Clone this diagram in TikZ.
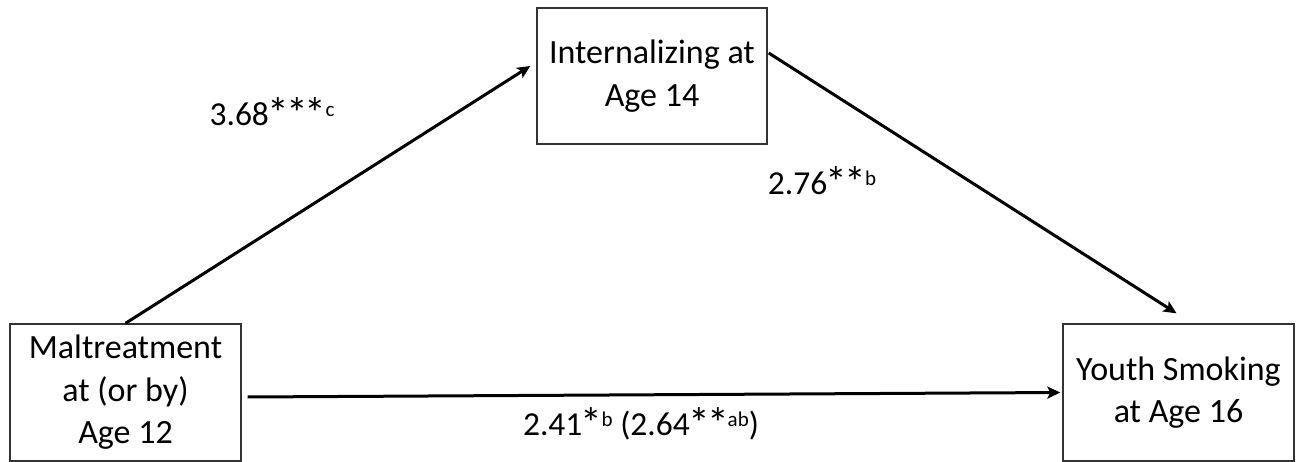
\documentclass[tikz,border=0pt]{standalone}
\usepackage{fontspec}
\setmainfont{Carlito}
\usetikzlibrary{arrows.meta,calc}

\tikzset{
  varbox/.style={draw=black!80, line width=1.4pt, fill=white, align=center,
    inner sep=0pt, font=\fontsize{34}{42.5}\selectfont},
  path arrow/.style={line width=3pt, -{Stealth[length=13pt,width=12pt,inset=3pt]}},
  coef/.style={inner sep=0pt, font=\fontsize{33.5}{38}\selectfont}
}
% significance stars and superscript letters of the coefficients
\newcommand{\st}{\kern-1.5pt\raisebox{-2.5pt}{\scalebox{1.3}{*}}\kern-1.5pt}
\newcommand{\sig}[1]{\kern0.5pt\raisebox{9pt}{\fontsize{21}{22}\selectfont #1}}

\begin{document}
\begin{tikzpicture}[x=1pt,y=-1pt]
  \useasboundingbox (0,0) rectangle (1301,462);

  % the three variables
  \node[varbox, minimum width=231pt, minimum height=137pt] (malt) at (125.5,392.5)
    {Maltreatment\\at (or by)\\Age 12};
  \node[varbox, minimum width=230pt, minimum height=136pt] (intern) at (652,76)
    {Internalizing at\\Age 14};
  \node[varbox, minimum width=231pt, minimum height=137pt] (smoke) at (1178.5,392.5)
    {Youth Smoking\\at Age 16};

  % paths of the mediation model
  \draw[path arrow] (malt.north) -- ($(intern.west)+(-6,-10)$);
  \draw[path arrow] ($(intern.east)+(1,-23)$) -- ($(smoke.north)+(-2,-10)$);
  \draw[path arrow] ($(malt.east)+(6,4.5)$) -- ($(smoke.west)+(-2,0)$);

  % path coefficients
  \node[coef] (ca) at (272,113) {3.68\st\st\st\sig{c}};
  \node[coef] (cb) at (822,182) {2.76\st\st\sig{b}};
  \node[coef] (cc) at (641,424) {2.41\st\sig{b} (2.64\st\st\sig{ab})};
\end{tikzpicture}
\end{document}
